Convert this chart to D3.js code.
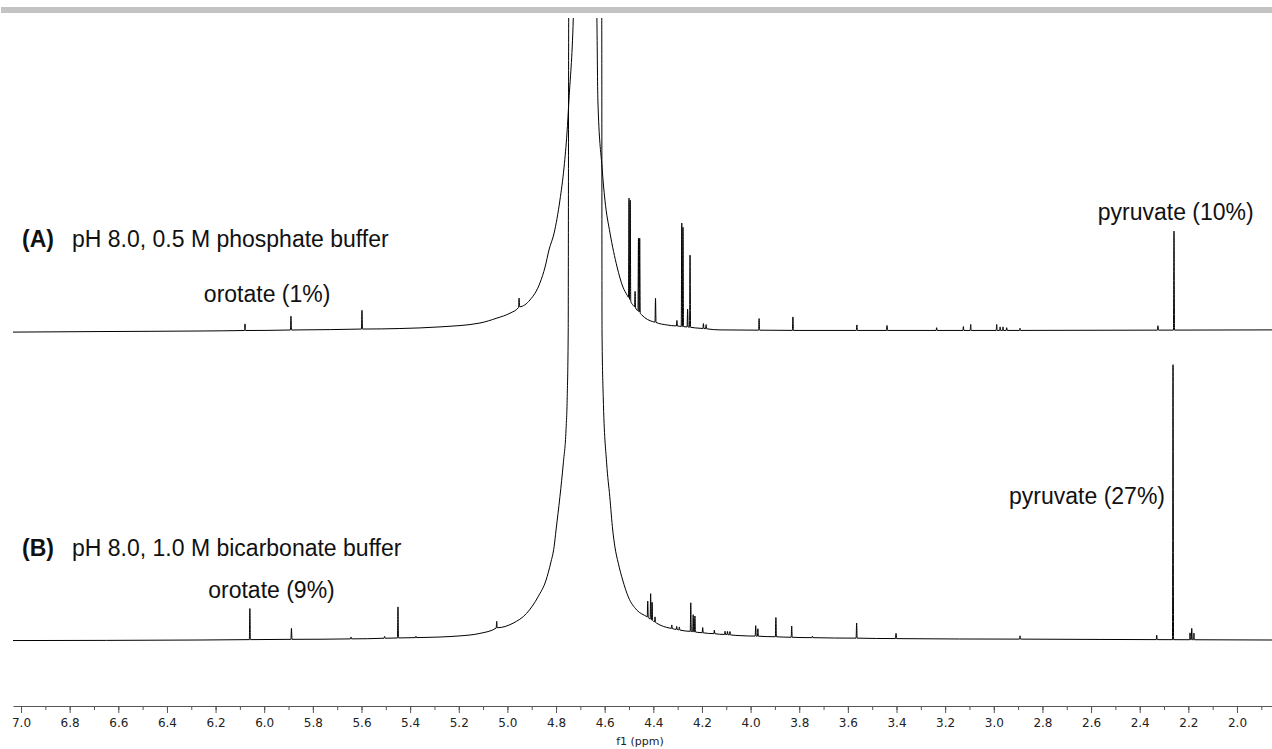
<!DOCTYPE html>
<html>
<head>
<meta charset="utf-8">
<script src="https://cdn.jsdelivr.net/npm/d3@7/dist/d3.min.js"></script>
<style>
  body { margin: 0; background: #fff; }
  svg { display: block; }
</style>
</head>
<body>
<script>
// readings: [ppm, intensity], intensity in % of the B pyruvate line
const envelopeA = [
  [7.033, -0.4], [6.675, -0.2], [6.264, 0], [5.853, 0.4], [5.442, 0.9], [5.277, 1.5],
  [5.113, 2.9], [5.043, 4.7], [4.989, 6.5], [4.952, 8.7], [4.907, 11.3], [4.866, 17.5],
  [4.845, 23.3], [4.829, 29.5], [4.808, 35.6], [4.784, 47.6], [4.767, 59.6], [4.755, 72],
  [4.747, 84], [4.729, 113.8], [4.681, 400], [4.632, 113.8], [4.628, 84], [4.611, 59.6],
  [4.599, 47.6], [4.578, 35.6], [4.549, 23.3], [4.525, 16], [4.508, 13.1], [4.484, 9.5],
  [4.447, 5.8], [4.402, 3.4], [4.344, 2.2], [4.208, 1.0], [4.126, 0.4], [3.797, 0.2],
  [2.974, 0.2], [1.856, 0.4]
];
const peaksA = [
  [6.079, 2.4], [5.890, 5.0], [5.598, 6.8], [4.952, 3.3],
  [4.500, 36.4], [4.495, 36.4], [4.475, 5.8], [4.461, 26.5], [4.456, 27.0], [4.391, 8.7],
  [4.303, 2.0], [4.283, 37.6], [4.278, 36.1], [4.259, 6.5], [4.249, 26.2], [4.194, 1.8],
  [4.183, 1.5], [3.965, 4.2], [3.826, 4.9], [3.563, 2.0], [3.439, 1.8], [3.235, 1.0],
  [3.125, 1.4], [3.095, 2.2], [2.988, 2.2], [2.974, 1.3], [2.962, 1.3], [2.947, 1.0],
  [2.892, 0.8], [2.325, 1.6], [2.259, 36.0]
];
const envelopeB = [
  [7.033, -0.2], [6.264, 0], [5.647, 0.4], [5.359, 0.9], [5.195, 1.5], [5.113, 2.4],
  [5.044, 4.4], [4.977, 6.1], [4.921, 9.7], [4.874, 15.7], [4.841, 21.8], [4.822, 28],
  [4.808, 33.9], [4.800, 40], [4.784, 52.1], [4.770, 64.4], [4.759, 76.4], [4.754, 88.5],
  [4.750, 112.7], [4.748, 226.2], [4.681, 1000], [4.612, 226.2], [4.611, 112.7],
  [4.606, 88.5], [4.592, 64.4], [4.579, 52.1], [4.567, 40], [4.558, 33.9], [4.544, 27.9],
  [4.526, 21.8], [4.503, 15.7], [4.468, 10.9], [4.427, 8.5], [4.386, 6.1], [4.331, 4.3],
  [4.290, 3.6], [4.208, 2.7], [4.044, 1.6], [3.797, 0.9], [3.386, 0.5], [2.563, 0.2],
  [1.856, 0]
];
const peaksB = [
  [6.059, 11.3], [5.888, 4.0], [5.643, 0.7], [5.505, 0.7], [5.450, 11.3], [5.376, 0.5],
  [5.044, 2.4], [4.423, 5.9], [4.411, 9.3], [4.405, 6.5], [4.393, 1.9], [4.324, 1.3],
  [4.304, 1.1], [4.293, 1.1], [4.246, 10.4], [4.236, 6.2], [4.229, 5.8], [4.197, 1.9],
  [4.149, 1.3], [4.105, 1.2], [4.095, 1.2], [4.085, 1.2], [3.979, 3.8], [3.970, 2.7],
  [3.896, 7.0], [3.831, 4.1], [3.746, 0.5], [3.564, 5.5], [3.402, 1.9], [2.892, 1.2],
  [2.330, 1.6], [2.263, 100], [2.193, 2.5], [2.186, 4.1], [2.177, 2.4]
];

const majorTicks = [7.0, 6.8, 6.6, 6.4, 6.2, 6.0, 5.8, 5.6, 5.4, 5.2, 5.0, 4.8, 4.6,
  4.4, 4.2, 4.0, 3.8, 3.6, 3.4, 3.2, 3.0, 2.8, 2.6, 2.4, 2.2, 2.0];
const axisTitle = "f1 (ppm)";
const labelA = ["(A)", "pH 8.0, 0.5 M phosphate buffer"];
const labelB = ["(B)", "pH 8.0, 1.0 M bicarbonate buffer"];
const orotateA = "orotate (1%)", orotateB = "orotate (9%)";
const pyruvateA = "pyruvate (10%)", pyruvateB = "pyruvate (27%)";

const WIDTH = 1272, HEIGHT = 749;
const BASE_A = 331, BASE_B = 640;

const x = d3.scaleLinear().domain([7.033, 1.856]).range([13, 1272]);
const y = d3.scaleLinear().domain([0, 100]).range([0, 275]);

const svg = d3.select('body').append('svg')
  .attr('width', WIDTH)
  .attr('height', HEIGHT);

svg.append('rect')
  .attr('x', 1).attr('y', 7)
  .attr('width', WIDTH - 1).attr('height', 6)
  .attr('fill', '#c3c3c3');

svg.append('clipPath').attr('id', 'plot')
  .append('rect').attr('x', 0).attr('y', 18).attr('width', WIDTH).attr('height', 700);

// envelope + narrow spikes -> polyline
function trace(env, peaks) {
  const w = 0.0022;
  let ppm = env.map(d => d[0]);
  peaks.forEach(p => ppm.push(p[0] + w, p[0], p[0] - w));
  ppm = Array.from(new Set(ppm)).sort((a, b) => b - a);
  const envAt = p => {
    for (let i = 0; i < env.length - 1; i++) {
      const a = env[i], b = env[i + 1];
      if (p <= a[0] && p >= b[0]) {
        return a[1] + (b[1] - a[1]) * (a[0] - p) / (a[0] - b[0]);
      }
    }
    return 0;
  };
  return ppm.map(p => {
    let v = envAt(p);
    peaks.forEach(k => { v += Math.max(0, k[1] * (1 - Math.abs(p - k[0]) / w)); });
    return [p, v];
  });
}

function drawTrace(env, peaks, base) {
  const line = d3.line()
    .curve(d3.curveMonotoneX)
    .x(d => x(d[0]))
    .y(d => base - y(d[1]));
  svg.append('path')
    .datum(trace(env, peaks))
    .attr('clip-path', 'url(#plot)')
    .attr('fill', 'none')
    .attr('stroke', '#000')
    .attr('stroke-width', 1)
    .attr('stroke-linejoin', 'round')
    .attr('d', line);
}

drawTrace(envelopeB, peaksB, BASE_B);
drawTrace(envelopeA, peaksA, BASE_A);

// axis
const AXIS_Y = 706;
const gMinor = svg.append('g')
  .attr('transform', `translate(0,${AXIS_Y})`)
  .call(d3.axisBottom(x).ticks(52).tickSize(4).tickSizeOuter(0).tickFormat(''));
gMinor.select('.domain').attr('stroke', '#555');
gMinor.selectAll('.tick line').attr('stroke', '#555');

const gMajor = svg.append('g')
  .attr('transform', `translate(0,${AXIS_Y})`)
  .call(d3.axisBottom(x).tickValues(majorTicks).tickSize(7).tickSizeOuter(0)
    .tickPadding(5).tickFormat(d3.format('.1f')));
gMajor.select('.domain').remove();
gMajor.selectAll('.tick line').attr('stroke', '#555');
gMajor.selectAll('.tick text')
  .attr('font-family', '"DejaVu Sans", Verdana, sans-serif')
  .attr('font-size', 12)
  .attr('fill', '#222');

svg.append('text')
  .attr('x', 640).attr('y', 745)
  .attr('text-anchor', 'middle')
  .attr('font-family', '"DejaVu Sans", Verdana, sans-serif')
  .attr('font-size', 11)
  .attr('fill', '#222')
  .text(axisTitle);

// annotations
const labelFont = '"Liberation Sans", Arial, sans-serif';
function addText(str, px, py, anchor, bold) {
  svg.append('text')
    .attr('x', px).attr('y', py)
    .attr('text-anchor', anchor)
    .attr('font-family', labelFont)
    .attr('font-size', 23)
    .attr('font-weight', bold ? 'bold' : 'normal')
    .attr('fill', '#111')
    .text(str);
}
addText(labelA[0], 22, 247, 'start', true);
addText(labelA[1], 72, 247, 'start', false);
addText(labelB[0], 22, 556, 'start', true);
addText(labelB[1], 72, 556, 'start', false);
addText(orotateA, x(5.988), 302, 'middle', false);
addText(orotateB, x(5.970), 598, 'middle', false);
addText(pyruvateA, x(2.252), 220, 'middle', false);
addText(pyruvateB, x(2.263) - 8, 504, 'end', false);
</script>
</body>
</html>
